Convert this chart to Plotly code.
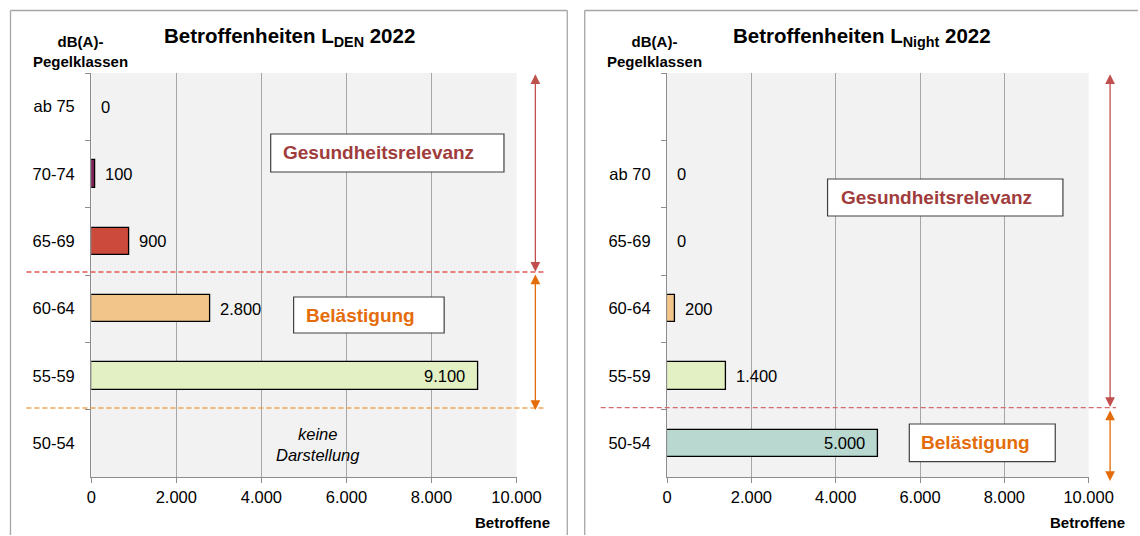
import plotly.graph_objects as go

# --- data -------------------------------------------------------------
lden_classes = ["ab 75", "70-74", "65-69", "60-64", "55-59", "50-54"]
lden_values = [0, 100, 900, 2800, 9100, None]   # 50-54: keine Darstellung
lden_colors = ["#80205a", "#80205a", "#cc4a3c", "#f2c68a", "#e2f0c4", "#b8d8d0"]

lnight_classes = [" ", "ab 70", "65-69", "60-64", "55-59", "50-54"]
lnight_values = [None, 0, 0, 200, 1400, 5000]
lnight_colors = ["#80205a", "#cc4a3c", "#cc4a3c", "#f2c68a", "#e2f0c4", "#b8d8d0"]

x_ticks = [0, 2000, 4000, 6000, 8000, 10000]

# --- page geometry ----------------------------------------------------
# layout positions are given on a 1140 x 536 grid; the figure itself is
# a little wider than that grid
GRID_W, H = 1140, 536
FIG_W = 1163
X_SHIFT = 3.5          # small leftward correction, fading out to the right edge
FONT = "Liberation Sans, Arial, sans-serif"
RED_TXT = "#a03c3c"
ORANGE_TXT = "#e46c0a"
RED_LINE = "#c0504d"
ORANGE_LINE = "#e46c0a"
FRAME = "#a6a6a6"


def px(x):
    return (x - X_SHIFT * (1 - x / GRID_W)) / GRID_W


def py(y):
    return 1 - y / H


def fmt(v):
    return f"{v:,}".replace(",", ".")


plot_top, plot_bottom = 73, 477
left_x0, left_x1 = 90, 516.6
right_x0, right_x1 = 667.6, 1090.5

fig = go.Figure()


def add_bars(classes, values, colors, xa, ya):
    widths = [0 if (v is None or v == 0) else 1.3 for v in values]
    fig.add_trace(go.Bar(
        x=values, y=classes, orientation="h", width=0.41,
        marker=dict(color=colors, line=dict(color="#000000", width=widths)),
        xaxis=xa, yaxis=ya, hoverinfo="skip", showlegend=False,
    ))
    for c, v in zip(classes, values):
        if v is None:
            continue
        inside = v >= 5000
        fig.add_annotation(
            x=v, y=c, xref=xa, yref=ya, text=fmt(v), showarrow=False,
            xanchor="right" if inside else "left", yanchor="middle",
            xshift=-11 if inside else 7.5,
            font=dict(family=FONT, size=16.5, color="#000000"),
        )


add_bars(lden_classes, lden_values, lden_colors, "x", "y")
add_bars(lnight_classes, lnight_values, lnight_colors, "x2", "y2")

xaxis_style = dict(
    range=[0, 10000], tickvals=x_ticks, tickformat=",d",
    showgrid=True, gridcolor="#a6a6a6", gridwidth=1.3,
    showline=True, linecolor="#8c8c8c", linewidth=1.3,
    ticks="outside", ticklen=5, tickcolor="#8c8c8c", tickwidth=1.3,
    zeroline=False, fixedrange=True,
    tickfont=dict(family=FONT, size=16.5, color="#000000"),
)
yaxis_style = dict(
    type="category", categoryorder="array", range=[5.5, -0.5],
    tickson="boundaries", ticks="outside", ticklen=5,
    tickcolor="#8c8c8c", tickwidth=1.3,
    showline=True, linecolor="#8c8c8c", linewidth=1.3,
    showgrid=False, zeroline=False, fixedrange=True,
    ticklabelstandoff=12,
    tickfont=dict(family=FONT, size=16.5, color="#000000"),
    domain=[py(plot_bottom), py(plot_top)],
)

fig.update_layout(
    width=FIG_W, height=H, autosize=False, margin=dict(l=0, r=0, t=0, b=0),
    paper_bgcolor="#ffffff", plot_bgcolor="#f2f2f2",
    separators=",.", bargap=0,
    xaxis=dict(domain=[px(left_x0), px(left_x1)], anchor="y", **xaxis_style),
    yaxis=dict(anchor="x", categoryarray=lden_classes, **yaxis_style),
    xaxis2=dict(domain=[px(right_x0), px(right_x1)], anchor="y2", **xaxis_style),
    yaxis2=dict(anchor="x2", categoryarray=lnight_classes, **yaxis_style),
)


def hline(x0, x1, y, color, width=1.3, dash=None):
    fig.add_shape(type="line", xref="paper", yref="paper",
                  x0=px(x0), x1=px(x1), y0=py(y), y1=py(y),
                  line=dict(color=color, width=width, dash=dash))


def vline(x, y0, y1, color, width=1.3):
    fig.add_shape(type="line", xref="paper", yref="paper",
                  x0=px(x), x1=px(x), y0=py(y0), y1=py(y1),
                  line=dict(color=color, width=width))


# panel frames (their lower / right edges run off the page)
hline(9, 567.5, 10.5, FRAME)
vline(9, 10.5, H - 1, FRAME)
vline(567.5, 10.5, H - 1, FRAME)
hline(585, GRID_W, 10.5, FRAME)
vline(585, 10.5, H - 1, FRAME)

# titles
fig.add_annotation(x=px(289), y=py(37), xref="paper", yref="paper", showarrow=False,
                   xanchor="center", yanchor="middle",
                   text="<b>Betroffenheiten L<sub>DEN</sub> 2022</b>",
                   font=dict(family=FONT, size=20.5, color="#000000"))
fig.add_annotation(x=px(863.5), y=py(37), xref="paper", yref="paper", showarrow=False,
                   xanchor="center", yanchor="middle",
                   text="<b>Betroffenheiten L<sub>Night</sub> 2022</b>",
                   font=dict(family=FONT, size=20.5, color="#000000"))

for cx in (79, 655.5):
    fig.add_annotation(x=px(cx), y=py(51), xref="paper", yref="paper", showarrow=False,
                       xanchor="center", yanchor="middle",
                       text="<b>dB(A)-<br>Pegelklassen</b>",
                       font=dict(family=FONT, size=15, color="#000000"))

for rx in (552, 1129):
    fig.add_annotation(x=px(rx), y=py(522), xref="paper", yref="paper", showarrow=False,
                       xanchor="right", yanchor="middle", text="<b>Betroffene</b>",
                       font=dict(family=FONT, size=15, color="#000000"))

fig.add_annotation(x=px(317), y=py(444), xref="paper", yref="paper", showarrow=False,
                   xanchor="center", yanchor="middle",
                   text="<i>keine<br>Darstellung</i>",
                   font=dict(family=FONT, size=16.5, color="#000000"))

# labelled boxes
boxes = [
    ((270, 134, 504, 172), 280, "Gesundheitsrelevanz", RED_TXT),
    ((293, 297, 444, 333), 303, "Belästigung", ORANGE_TXT),
    ((828.6, 179, 1064.7, 216), 840, "Gesundheitsrelevanz", RED_TXT),
    ((910.6, 424, 1057, 461.7), 920.5, "Belästigung", ORANGE_TXT),
]
for (x0, y0, x1, y1), tx, label, col in boxes:
    fig.add_shape(type="rect", xref="paper", yref="paper",
                  x0=px(x0), x1=px(x1), y0=py(y1), y1=py(y0),
                  line=dict(color="#404040", width=1.2), fillcolor="#ffffff")
    fig.add_annotation(x=px(tx), y=py((y0 + y1) / 2), xref="paper", yref="paper",
                       xanchor="left", yanchor="middle", showarrow=False,
                       text=f"<b>{label}</b>",
                       font=dict(family=FONT, size=19, color=col))

# dashed threshold lines
hline(25, 546, 272, "#e05a55", dash="5px,3px")
hline(25, 546, 408, "#f7a25a", dash="5px,3px")
hline(601, 1118, 407.7, "#d46a6a", dash="5px,3px")

# double-headed range arrows
arrows = [
    (535.5, 72.7, 271.7, RED_LINE),
    (535.5, 273, 410, ORANGE_LINE),
    (1112, 72.7, 407, RED_LINE),
    (1112, 409, 481, ORANGE_LINE),
]
for x, ytop, ybot, col in arrows:
    fig.add_annotation(x=px(x), y=py(ybot), xref="paper", yref="paper",
                       ax=0, ay=-(ybot - ytop), axref="pixel", ayref="pixel",
                       text="", showarrow=True, arrowside="end+start",
                       arrowhead=2, startarrowhead=2, arrowsize=1.5,
                       startarrowsize=1.5, arrowwidth=1.3, arrowcolor=col,
                       standoff=0, startstandoff=0)

fig.write_html("out.html", config={"responsive": False})
